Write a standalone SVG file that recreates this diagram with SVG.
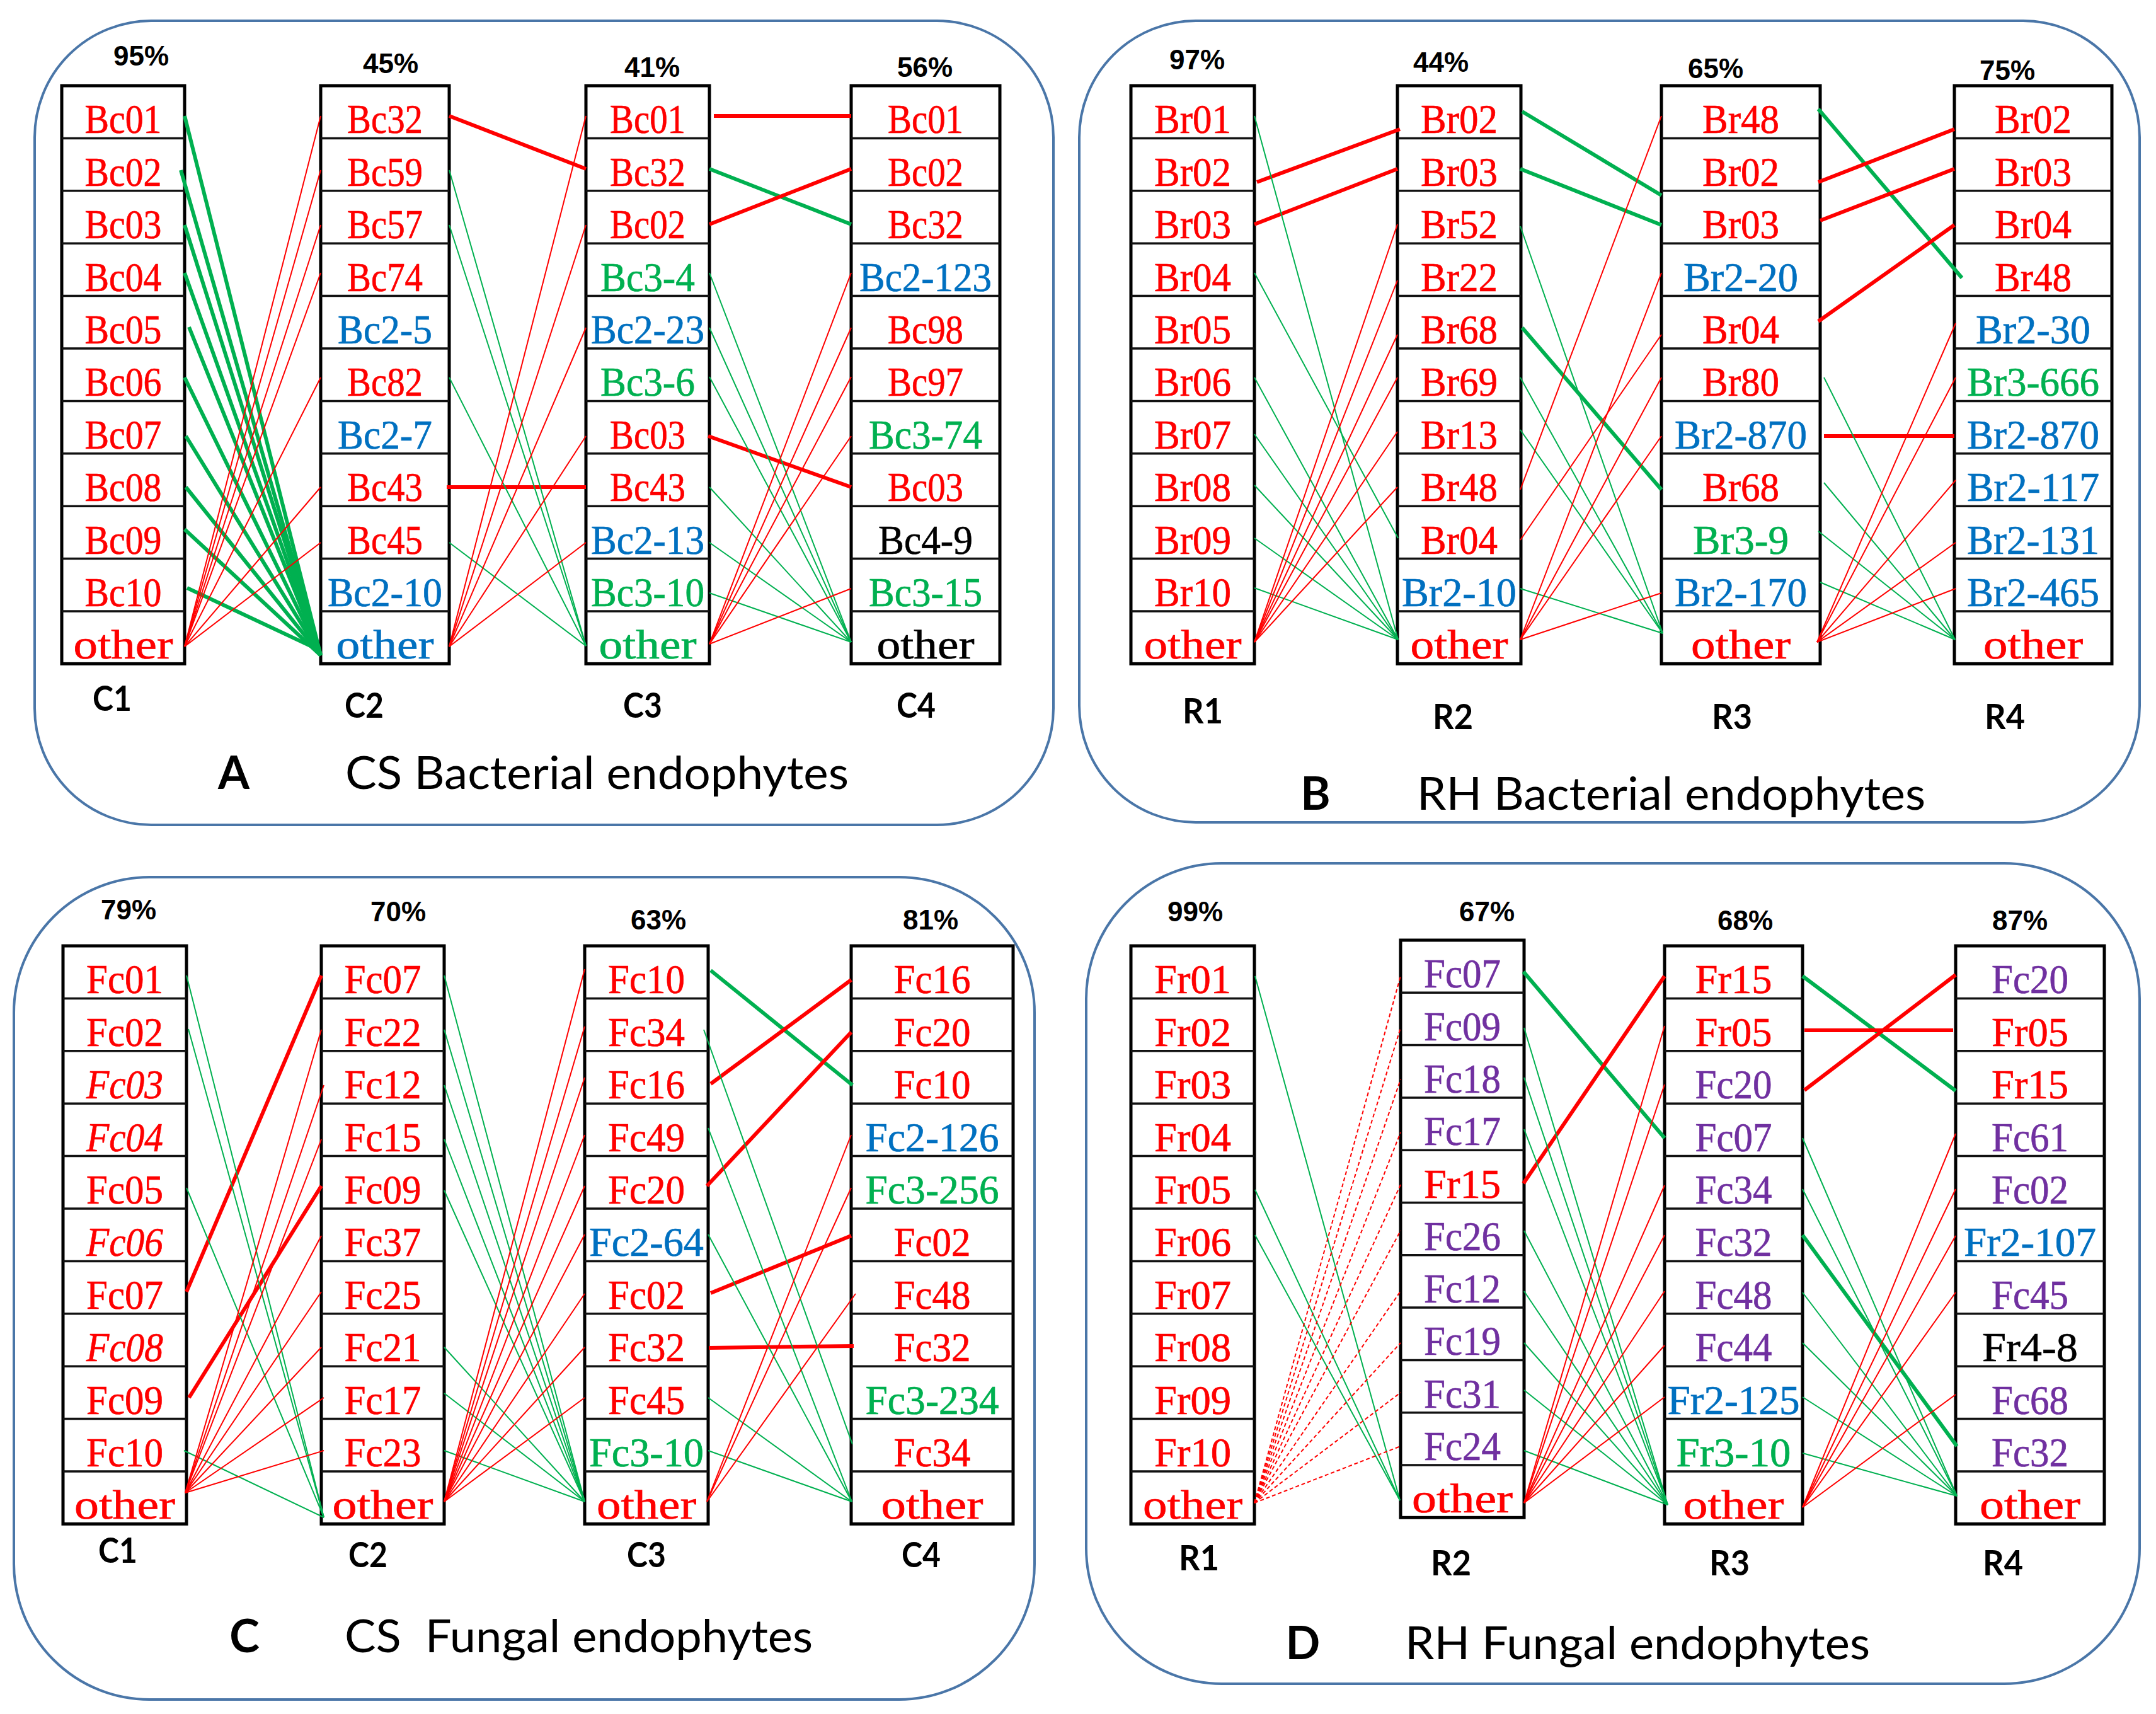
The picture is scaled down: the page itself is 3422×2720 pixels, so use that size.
<svg xmlns="http://www.w3.org/2000/svg" width="3422" height="2720" viewBox="0 0 3422 2720">
<style>
.bg{fill:#fff}
.panel{fill:none;stroke:#4A76A8;stroke-width:4}
.box{fill:#fff;stroke:#000;stroke-width:5}
.sep{fill:none;stroke:#111;stroke-width:3.5}
.t{font-family:"Liberation Serif","Times New Roman",serif;font-size:66px;text-anchor:middle;stroke-width:0.7}
.i{font-style:italic}
.r{fill:#FF0000;stroke:#FF0000}.b{fill:#0070C0;stroke:#0070C0}.g{fill:#00B050;stroke:#00B050}.p{fill:#7030A0;stroke:#7030A0}.k{fill:#000;stroke:#000}
.pc{font-family:"Liberation Sans",Arial,sans-serif;font-weight:bold;font-size:44px;text-anchor:middle;fill:#000}
.lb{font-family:Lato,"Liberation Sans",sans-serif;font-weight:bold;font-size:56px;text-anchor:middle;fill:#000}
.ti{font-family:Lato,"Liberation Sans",sans-serif;font-size:72px;fill:#000}
.tl{font-family:Lato,"Liberation Sans",sans-serif;font-weight:bold;font-size:72px;text-anchor:middle;fill:#000}
.tr{stroke:#FF0000;stroke-width:6;fill:none}
.tg{stroke:#00B050;stroke-width:6;fill:none}
.nr{stroke:#FF0000;stroke-width:2;fill:none}
.ng{stroke:#00B050;stroke-width:2;fill:none}
.dr{stroke:#FF0000;stroke-width:2;fill:none;stroke-dasharray:6 4}
</style>
<rect class="bg" x="0" y="0" width="3422" height="2720"/>

<g id="panels">
<rect id="panel-A" class="panel" x="55" y="33" width="1617" height="1276" rx="185" ry="185"/>
<rect id="panel-B" class="panel" x="1713" y="33" width="1683" height="1272" rx="185" ry="185"/>
<rect id="panel-C" class="panel" x="22" y="1392" width="1620" height="1305" rx="215" ry="215"/>
<rect id="panel-D" class="panel" x="1724" y="1370" width="1672" height="1302" rx="215" ry="215"/>
</g>

<!-- ================= PANEL A ================= -->
<g id="A-C1">
<rect class="box" x="98" y="136" width="195" height="917.4"/>
<path class="sep" d="M98 219.4h195M98 302.8h195M98 386.2h195M98 469.6h195M98 553h195M98 636.4h195M98 719.8h195M98 803.2h195M98 886.6h195M98 970h195"/>
<text class="t r" x="195.5" y="211.4" textLength="122" lengthAdjust="spacingAndGlyphs">Bc01</text>
<text class="t r" x="195.5" y="294.8" textLength="122" lengthAdjust="spacingAndGlyphs">Bc02</text>
<text class="t r" x="195.5" y="378.2" textLength="122" lengthAdjust="spacingAndGlyphs">Bc03</text>
<text class="t r" x="195.5" y="461.6" textLength="122" lengthAdjust="spacingAndGlyphs">Bc04</text>
<text class="t r" x="195.5" y="545" textLength="122" lengthAdjust="spacingAndGlyphs">Bc05</text>
<text class="t r" x="195.5" y="628.4" textLength="122" lengthAdjust="spacingAndGlyphs">Bc06</text>
<text class="t r" x="195.5" y="711.8" textLength="122" lengthAdjust="spacingAndGlyphs">Bc07</text>
<text class="t r" x="195.5" y="795.2" textLength="122" lengthAdjust="spacingAndGlyphs">Bc08</text>
<text class="t r" x="195.5" y="878.6" textLength="122" lengthAdjust="spacingAndGlyphs">Bc09</text>
<text class="t r" x="195.5" y="962" textLength="122" lengthAdjust="spacingAndGlyphs">Bc10</text>
<text class="t r" x="195.5" y="1045.4" textLength="158" lengthAdjust="spacingAndGlyphs">other</text>
</g>
<g id="A-C2">
<rect class="box" x="509" y="136" width="204" height="917.4"/>
<path class="sep" d="M509 219.4h204M509 302.8h204M509 386.2h204M509 469.6h204M509 553h204M509 636.4h204M509 719.8h204M509 803.2h204M509 886.6h204M509 970h204"/>
<text class="t r" x="611" y="211.4" textLength="120" lengthAdjust="spacingAndGlyphs">Bc32</text>
<text class="t r" x="611" y="294.8" textLength="120" lengthAdjust="spacingAndGlyphs">Bc59</text>
<text class="t r" x="611" y="378.2" textLength="120" lengthAdjust="spacingAndGlyphs">Bc57</text>
<text class="t r" x="611" y="461.6" textLength="120" lengthAdjust="spacingAndGlyphs">Bc74</text>
<text class="t b" x="611" y="545" textLength="150" lengthAdjust="spacingAndGlyphs">Bc2-5</text>
<text class="t r" x="611" y="628.4" textLength="120" lengthAdjust="spacingAndGlyphs">Bc82</text>
<text class="t b" x="611" y="711.8" textLength="150" lengthAdjust="spacingAndGlyphs">Bc2-7</text>
<text class="t r" x="611" y="795.2" textLength="120" lengthAdjust="spacingAndGlyphs">Bc43</text>
<text class="t r" x="611" y="878.6" textLength="120" lengthAdjust="spacingAndGlyphs">Bc45</text>
<text class="t b" x="611" y="962" textLength="182" lengthAdjust="spacingAndGlyphs">Bc2-10</text>
<text class="t b" x="611" y="1045.4" textLength="155" lengthAdjust="spacingAndGlyphs">other</text>
</g>
<g id="A-C3">
<rect class="box" x="930" y="136" width="196" height="917.4"/>
<path class="sep" d="M930 219.4h196M930 302.8h196M930 386.2h196M930 469.6h196M930 553h196M930 636.4h196M930 719.8h196M930 803.2h196M930 886.6h196M930 970h196"/>
<text class="t r" x="1028" y="211.4" textLength="120" lengthAdjust="spacingAndGlyphs">Bc01</text>
<text class="t r" x="1028" y="294.8" textLength="120" lengthAdjust="spacingAndGlyphs">Bc32</text>
<text class="t r" x="1028" y="378.2" textLength="120" lengthAdjust="spacingAndGlyphs">Bc02</text>
<text class="t g" x="1028" y="461.6" textLength="150" lengthAdjust="spacingAndGlyphs">Bc3-4</text>
<text class="t b" x="1028" y="545" textLength="180" lengthAdjust="spacingAndGlyphs">Bc2-23</text>
<text class="t g" x="1028" y="628.4" textLength="150" lengthAdjust="spacingAndGlyphs">Bc3-6</text>
<text class="t r" x="1028" y="711.8" textLength="120" lengthAdjust="spacingAndGlyphs">Bc03</text>
<text class="t r" x="1028" y="795.2" textLength="120" lengthAdjust="spacingAndGlyphs">Bc43</text>
<text class="t b" x="1028" y="878.6" textLength="180" lengthAdjust="spacingAndGlyphs">Bc2-13</text>
<text class="t g" x="1028" y="962" textLength="180" lengthAdjust="spacingAndGlyphs">Bc3-10</text>
<text class="t g" x="1028" y="1045.4" textLength="155" lengthAdjust="spacingAndGlyphs">other</text>
</g>
<g id="A-C4">
<rect class="box" x="1351" y="136" width="236" height="917.4"/>
<path class="sep" d="M1351 219.4h236M1351 302.8h236M1351 386.2h236M1351 469.6h236M1351 553h236M1351 636.4h236M1351 719.8h236M1351 803.2h236M1351 886.6h236M1351 970h236"/>
<text class="t r" x="1469" y="211.4" textLength="120" lengthAdjust="spacingAndGlyphs">Bc01</text>
<text class="t r" x="1469" y="294.8" textLength="120" lengthAdjust="spacingAndGlyphs">Bc02</text>
<text class="t r" x="1469" y="378.2" textLength="120" lengthAdjust="spacingAndGlyphs">Bc32</text>
<text class="t b" x="1469" y="461.6" textLength="210" lengthAdjust="spacingAndGlyphs">Bc2-123</text>
<text class="t r" x="1469" y="545" textLength="120" lengthAdjust="spacingAndGlyphs">Bc98</text>
<text class="t r" x="1469" y="628.4" textLength="120" lengthAdjust="spacingAndGlyphs">Bc97</text>
<text class="t g" x="1469" y="711.8" textLength="180" lengthAdjust="spacingAndGlyphs">Bc3-74</text>
<text class="t r" x="1469" y="795.2" textLength="120" lengthAdjust="spacingAndGlyphs">Bc03</text>
<text class="t k" x="1469" y="878.6" textLength="150" lengthAdjust="spacingAndGlyphs">Bc4-9</text>
<text class="t g" x="1469" y="962" textLength="180" lengthAdjust="spacingAndGlyphs">Bc3-15</text>
<text class="t k" x="1469" y="1045.4" textLength="155" lengthAdjust="spacingAndGlyphs">other</text>
</g>
<g id="A-labels">
<text class="pc" x="224" y="104">95%</text>
<text class="pc" x="620" y="116">45%</text>
<text class="pc" x="1035" y="122">41%</text>
<text class="pc" x="1468" y="122">56%</text>
<text class="lb" x="178" y="1128" textLength="62" lengthAdjust="spacingAndGlyphs">C1</text>
<text class="lb" x="578" y="1139" textLength="62" lengthAdjust="spacingAndGlyphs">C2</text>
<text class="lb" x="1020" y="1139" textLength="62" lengthAdjust="spacingAndGlyphs">C3</text>
<text class="lb" x="1454" y="1139" textLength="62" lengthAdjust="spacingAndGlyphs">C4</text>
<text class="tl" x="371" y="1252">A</text>
<text class="ti" x="548" y="1252" textLength="799" lengthAdjust="spacingAndGlyphs">CS Bacterial endophytes</text>
</g>

<!-- ================= PANEL B ================= -->
<g id="B-R1">
<rect class="box" x="1795" y="136" width="196" height="917.4"/>
<path class="sep" d="M1795 219.4h196M1795 302.8h196M1795 386.2h196M1795 469.6h196M1795 553h196M1795 636.4h196M1795 719.8h196M1795 803.2h196M1795 886.6h196M1795 970h196"/>
<text class="t r" x="1893" y="211.4" textLength="122" lengthAdjust="spacingAndGlyphs">Br01</text>
<text class="t r" x="1893" y="294.8" textLength="122" lengthAdjust="spacingAndGlyphs">Br02</text>
<text class="t r" x="1893" y="378.2" textLength="122" lengthAdjust="spacingAndGlyphs">Br03</text>
<text class="t r" x="1893" y="461.6" textLength="122" lengthAdjust="spacingAndGlyphs">Br04</text>
<text class="t r" x="1893" y="545" textLength="122" lengthAdjust="spacingAndGlyphs">Br05</text>
<text class="t r" x="1893" y="628.4" textLength="122" lengthAdjust="spacingAndGlyphs">Br06</text>
<text class="t r" x="1893" y="711.8" textLength="122" lengthAdjust="spacingAndGlyphs">Br07</text>
<text class="t r" x="1893" y="795.2" textLength="122" lengthAdjust="spacingAndGlyphs">Br08</text>
<text class="t r" x="1893" y="878.6" textLength="122" lengthAdjust="spacingAndGlyphs">Br09</text>
<text class="t r" x="1893" y="962" textLength="122" lengthAdjust="spacingAndGlyphs">Br10</text>
<text class="t r" x="1893" y="1045.4" textLength="155" lengthAdjust="spacingAndGlyphs">other</text>
</g>
<g id="B-R2">
<rect class="box" x="2218" y="136" width="196" height="917.4"/>
<path class="sep" d="M2218 219.4h196M2218 302.8h196M2218 386.2h196M2218 469.6h196M2218 553h196M2218 636.4h196M2218 719.8h196M2218 803.2h196M2218 886.6h196M2218 970h196"/>
<text class="t r" x="2316" y="211.4" textLength="122" lengthAdjust="spacingAndGlyphs">Br02</text>
<text class="t r" x="2316" y="294.8" textLength="122" lengthAdjust="spacingAndGlyphs">Br03</text>
<text class="t r" x="2316" y="378.2" textLength="122" lengthAdjust="spacingAndGlyphs">Br52</text>
<text class="t r" x="2316" y="461.6" textLength="122" lengthAdjust="spacingAndGlyphs">Br22</text>
<text class="t r" x="2316" y="545" textLength="122" lengthAdjust="spacingAndGlyphs">Br68</text>
<text class="t r" x="2316" y="628.4" textLength="122" lengthAdjust="spacingAndGlyphs">Br69</text>
<text class="t r" x="2316" y="711.8" textLength="122" lengthAdjust="spacingAndGlyphs">Br13</text>
<text class="t r" x="2316" y="795.2" textLength="122" lengthAdjust="spacingAndGlyphs">Br48</text>
<text class="t r" x="2316" y="878.6" textLength="122" lengthAdjust="spacingAndGlyphs">Br04</text>
<text class="t b" x="2316" y="962" textLength="182" lengthAdjust="spacingAndGlyphs">Br2-10</text>
<text class="t r" x="2316" y="1045.4" textLength="155" lengthAdjust="spacingAndGlyphs">other</text>
</g>
<g id="B-R3">
<rect class="box" x="2637" y="136" width="252" height="917.4"/>
<path class="sep" d="M2637 219.4h252M2637 302.8h252M2637 386.2h252M2637 469.6h252M2637 553h252M2637 636.4h252M2637 719.8h252M2637 803.2h252M2637 886.6h252M2637 970h252"/>
<text class="t r" x="2763" y="211.4" textLength="122" lengthAdjust="spacingAndGlyphs">Br48</text>
<text class="t r" x="2763" y="294.8" textLength="122" lengthAdjust="spacingAndGlyphs">Br02</text>
<text class="t r" x="2763" y="378.2" textLength="122" lengthAdjust="spacingAndGlyphs">Br03</text>
<text class="t b" x="2763" y="461.6" textLength="182" lengthAdjust="spacingAndGlyphs">Br2-20</text>
<text class="t r" x="2763" y="545" textLength="122" lengthAdjust="spacingAndGlyphs">Br04</text>
<text class="t r" x="2763" y="628.4" textLength="122" lengthAdjust="spacingAndGlyphs">Br80</text>
<text class="t b" x="2763" y="711.8" textLength="210" lengthAdjust="spacingAndGlyphs">Br2-870</text>
<text class="t r" x="2763" y="795.2" textLength="122" lengthAdjust="spacingAndGlyphs">Br68</text>
<text class="t g" x="2763" y="878.6" textLength="152" lengthAdjust="spacingAndGlyphs">Br3-9</text>
<text class="t b" x="2763" y="962" textLength="210" lengthAdjust="spacingAndGlyphs">Br2-170</text>
<text class="t r" x="2763" y="1045.4" textLength="158" lengthAdjust="spacingAndGlyphs">other</text>
</g>
<g id="B-R4">
<rect class="box" x="3102" y="136" width="250" height="917.4"/>
<path class="sep" d="M3102 219.4h250M3102 302.8h250M3102 386.2h250M3102 469.6h250M3102 553h250M3102 636.4h250M3102 719.8h250M3102 803.2h250M3102 886.6h250M3102 970h250"/>
<text class="t r" x="3227" y="211.4" textLength="122" lengthAdjust="spacingAndGlyphs">Br02</text>
<text class="t r" x="3227" y="294.8" textLength="122" lengthAdjust="spacingAndGlyphs">Br03</text>
<text class="t r" x="3227" y="378.2" textLength="122" lengthAdjust="spacingAndGlyphs">Br04</text>
<text class="t r" x="3227" y="461.6" textLength="122" lengthAdjust="spacingAndGlyphs">Br48</text>
<text class="t b" x="3227" y="545" textLength="182" lengthAdjust="spacingAndGlyphs">Br2-30</text>
<text class="t g" x="3227" y="628.4" textLength="210" lengthAdjust="spacingAndGlyphs">Br3-666</text>
<text class="t b" x="3227" y="711.8" textLength="210" lengthAdjust="spacingAndGlyphs">Br2-870</text>
<text class="t b" x="3227" y="795.2" textLength="210" lengthAdjust="spacingAndGlyphs">Br2-117</text>
<text class="t b" x="3227" y="878.6" textLength="210" lengthAdjust="spacingAndGlyphs">Br2-131</text>
<text class="t b" x="3227" y="962" textLength="210" lengthAdjust="spacingAndGlyphs">Br2-465</text>
<text class="t r" x="3227" y="1045.4" textLength="158" lengthAdjust="spacingAndGlyphs">other</text>
</g>
<g id="B-labels">
<text class="pc" x="1900" y="110">97%</text>
<text class="pc" x="2287" y="114">44%</text>
<text class="pc" x="2723" y="124">65%</text>
<text class="pc" x="3186" y="127">75%</text>
<text class="lb" x="1909" y="1148" textLength="64" lengthAdjust="spacingAndGlyphs">R1</text>
<text class="lb" x="2306" y="1157" textLength="64" lengthAdjust="spacingAndGlyphs">R2</text>
<text class="lb" x="2749" y="1157" textLength="64" lengthAdjust="spacingAndGlyphs">R3</text>
<text class="lb" x="3182" y="1157" textLength="64" lengthAdjust="spacingAndGlyphs">R4</text>
<text class="tl" x="2088" y="1285">B</text>
<text class="ti" x="2249" y="1285" textLength="807" lengthAdjust="spacingAndGlyphs">RH Bacterial endophytes</text>
</g>

<!-- ================= PANEL C ================= -->
<g id="C-C1">
<rect class="box" x="100" y="1501" width="196" height="917.4"/>
<path class="sep" d="M100 1584.4h196M100 1667.8h196M100 1751.2h196M100 1834.6h196M100 1918h196M100 2001.4h196M100 2084.8h196M100 2168.2h196M100 2251.6h196M100 2335h196"/>
<text class="t r" x="198" y="1576.4" textLength="122" lengthAdjust="spacingAndGlyphs">Fc01</text>
<text class="t r" x="198" y="1659.8" textLength="122" lengthAdjust="spacingAndGlyphs">Fc02</text>
<text class="t r i" x="198" y="1743.2" textLength="122" lengthAdjust="spacingAndGlyphs">Fc03</text>
<text class="t r i" x="198" y="1826.6" textLength="122" lengthAdjust="spacingAndGlyphs">Fc04</text>
<text class="t r" x="198" y="1910" textLength="122" lengthAdjust="spacingAndGlyphs">Fc05</text>
<text class="t r i" x="198" y="1993.4" textLength="122" lengthAdjust="spacingAndGlyphs">Fc06</text>
<text class="t r" x="198" y="2076.8" textLength="122" lengthAdjust="spacingAndGlyphs">Fc07</text>
<text class="t r i" x="198" y="2160.2" textLength="122" lengthAdjust="spacingAndGlyphs">Fc08</text>
<text class="t r" x="198" y="2243.6" textLength="122" lengthAdjust="spacingAndGlyphs">Fc09</text>
<text class="t r" x="198" y="2327" textLength="122" lengthAdjust="spacingAndGlyphs">Fc10</text>
<text class="t r" x="198" y="2410.4" textLength="160" lengthAdjust="spacingAndGlyphs">other</text>
</g>
<g id="C-C2">
<rect class="box" x="510" y="1501" width="195" height="917.4"/>
<path class="sep" d="M510 1584.4h195M510 1667.8h195M510 1751.2h195M510 1834.6h195M510 1918h195M510 2001.4h195M510 2084.8h195M510 2168.2h195M510 2251.6h195M510 2335h195"/>
<text class="t r" x="607.5" y="1576.4" textLength="122" lengthAdjust="spacingAndGlyphs">Fc07</text>
<text class="t r" x="607.5" y="1659.8" textLength="122" lengthAdjust="spacingAndGlyphs">Fc22</text>
<text class="t r" x="607.5" y="1743.2" textLength="122" lengthAdjust="spacingAndGlyphs">Fc12</text>
<text class="t r" x="607.5" y="1826.6" textLength="122" lengthAdjust="spacingAndGlyphs">Fc15</text>
<text class="t r" x="607.5" y="1910" textLength="122" lengthAdjust="spacingAndGlyphs">Fc09</text>
<text class="t r" x="607.5" y="1993.4" textLength="122" lengthAdjust="spacingAndGlyphs">Fc37</text>
<text class="t r" x="607.5" y="2076.8" textLength="122" lengthAdjust="spacingAndGlyphs">Fc25</text>
<text class="t r" x="607.5" y="2160.2" textLength="122" lengthAdjust="spacingAndGlyphs">Fc21</text>
<text class="t r" x="607.5" y="2243.6" textLength="122" lengthAdjust="spacingAndGlyphs">Fc17</text>
<text class="t r" x="607.5" y="2327" textLength="122" lengthAdjust="spacingAndGlyphs">Fc23</text>
<text class="t r" x="607.5" y="2410.4" textLength="160" lengthAdjust="spacingAndGlyphs">other</text>
</g>
<g id="C-C3">
<rect class="box" x="928" y="1501" width="196" height="917.4"/>
<path class="sep" d="M928 1584.4h196M928 1667.8h196M928 1751.2h196M928 1834.6h196M928 1918h196M928 2001.4h196M928 2084.8h196M928 2168.2h196M928 2251.6h196M928 2335h196"/>
<text class="t r" x="1026" y="1576.4" textLength="122" lengthAdjust="spacingAndGlyphs">Fc10</text>
<text class="t r" x="1026" y="1659.8" textLength="122" lengthAdjust="spacingAndGlyphs">Fc34</text>
<text class="t r" x="1026" y="1743.2" textLength="122" lengthAdjust="spacingAndGlyphs">Fc16</text>
<text class="t r" x="1026" y="1826.6" textLength="122" lengthAdjust="spacingAndGlyphs">Fc49</text>
<text class="t r" x="1026" y="1910" textLength="122" lengthAdjust="spacingAndGlyphs">Fc20</text>
<text class="t b" x="1026" y="1993.4" textLength="182" lengthAdjust="spacingAndGlyphs">Fc2-64</text>
<text class="t r" x="1026" y="2076.8" textLength="122" lengthAdjust="spacingAndGlyphs">Fc02</text>
<text class="t r" x="1026" y="2160.2" textLength="122" lengthAdjust="spacingAndGlyphs">Fc32</text>
<text class="t r" x="1026" y="2243.6" textLength="122" lengthAdjust="spacingAndGlyphs">Fc45</text>
<text class="t g" x="1026" y="2327" textLength="182" lengthAdjust="spacingAndGlyphs">Fc3-10</text>
<text class="t r" x="1026" y="2410.4" textLength="158" lengthAdjust="spacingAndGlyphs">other</text>
</g>
<g id="C-C4">
<rect class="box" x="1351" y="1501" width="257" height="917.4"/>
<path class="sep" d="M1351 1584.4h257M1351 1667.8h257M1351 1751.2h257M1351 1834.6h257M1351 1918h257M1351 2001.4h257M1351 2084.8h257M1351 2168.2h257M1351 2251.6h257M1351 2335h257"/>
<text class="t r" x="1479.5" y="1576.4" textLength="122" lengthAdjust="spacingAndGlyphs">Fc16</text>
<text class="t r" x="1479.5" y="1659.8" textLength="122" lengthAdjust="spacingAndGlyphs">Fc20</text>
<text class="t r" x="1479.5" y="1743.2" textLength="122" lengthAdjust="spacingAndGlyphs">Fc10</text>
<text class="t b" x="1479.5" y="1826.6" textLength="212" lengthAdjust="spacingAndGlyphs">Fc2-126</text>
<text class="t g" x="1479.5" y="1910" textLength="212" lengthAdjust="spacingAndGlyphs">Fc3-256</text>
<text class="t r" x="1479.5" y="1993.4" textLength="122" lengthAdjust="spacingAndGlyphs">Fc02</text>
<text class="t r" x="1479.5" y="2076.8" textLength="122" lengthAdjust="spacingAndGlyphs">Fc48</text>
<text class="t r" x="1479.5" y="2160.2" textLength="122" lengthAdjust="spacingAndGlyphs">Fc32</text>
<text class="t g" x="1479.5" y="2243.6" textLength="212" lengthAdjust="spacingAndGlyphs">Fc3-234</text>
<text class="t r" x="1479.5" y="2327" textLength="122" lengthAdjust="spacingAndGlyphs">Fc34</text>
<text class="t r" x="1479.5" y="2410.4" textLength="162" lengthAdjust="spacingAndGlyphs">other</text>
</g>
<g id="C-labels">
<text class="pc" x="204" y="1459">79%</text>
<text class="pc" x="632" y="1462">70%</text>
<text class="pc" x="1045" y="1475">63%</text>
<text class="pc" x="1477" y="1475">81%</text>
<text class="lb" x="187" y="2480" textLength="62" lengthAdjust="spacingAndGlyphs">C1</text>
<text class="lb" x="584" y="2487" textLength="62" lengthAdjust="spacingAndGlyphs">C2</text>
<text class="lb" x="1026" y="2487" textLength="62" lengthAdjust="spacingAndGlyphs">C3</text>
<text class="lb" x="1462" y="2487" textLength="62" lengthAdjust="spacingAndGlyphs">C4</text>
<text class="tl" x="388" y="2622">C</text>
<text class="ti" x="547" y="2622" textLength="743" lengthAdjust="spacingAndGlyphs" style="white-space:pre">CS  Fungal endophytes</text>
</g>

<!-- ================= PANEL D ================= -->
<g id="D-R1">
<rect class="box" x="1795" y="1501" width="196" height="917.4"/>
<path class="sep" d="M1795 1584.4h196M1795 1667.8h196M1795 1751.2h196M1795 1834.6h196M1795 1918h196M1795 2001.4h196M1795 2084.8h196M1795 2168.2h196M1795 2251.6h196M1795 2335h196"/>
<text class="t r" x="1893" y="1576.4" textLength="122" lengthAdjust="spacingAndGlyphs">Fr01</text>
<text class="t r" x="1893" y="1659.8" textLength="122" lengthAdjust="spacingAndGlyphs">Fr02</text>
<text class="t r" x="1893" y="1743.2" textLength="122" lengthAdjust="spacingAndGlyphs">Fr03</text>
<text class="t r" x="1893" y="1826.6" textLength="122" lengthAdjust="spacingAndGlyphs">Fr04</text>
<text class="t r" x="1893" y="1910" textLength="122" lengthAdjust="spacingAndGlyphs">Fr05</text>
<text class="t r" x="1893" y="1993.4" textLength="122" lengthAdjust="spacingAndGlyphs">Fr06</text>
<text class="t r" x="1893" y="2076.8" textLength="122" lengthAdjust="spacingAndGlyphs">Fr07</text>
<text class="t r" x="1893" y="2160.2" textLength="122" lengthAdjust="spacingAndGlyphs">Fr08</text>
<text class="t r" x="1893" y="2243.6" textLength="122" lengthAdjust="spacingAndGlyphs">Fr09</text>
<text class="t r" x="1893" y="2327" textLength="122" lengthAdjust="spacingAndGlyphs">Fr10</text>
<text class="t r" x="1893" y="2410.4" textLength="158" lengthAdjust="spacingAndGlyphs">other</text>
</g>
<g id="D-R2">
<rect class="box" x="2223" y="1492" width="196" height="916.3"/>
<path class="sep" d="M2223 1575.3h196M2223 1658.6h196M2223 1741.9h196M2223 1825.2h196M2223 1908.5h196M2223 1991.8h196M2223 2075.1h196M2223 2158.4h196M2223 2241.7h196M2223 2325h196"/>
<text class="t p" x="2321" y="1567.3" textLength="122" lengthAdjust="spacingAndGlyphs">Fc07</text>
<text class="t p" x="2321" y="1650.6" textLength="122" lengthAdjust="spacingAndGlyphs">Fc09</text>
<text class="t p" x="2321" y="1733.9" textLength="122" lengthAdjust="spacingAndGlyphs">Fc18</text>
<text class="t p" x="2321" y="1817.2" textLength="122" lengthAdjust="spacingAndGlyphs">Fc17</text>
<text class="t r" x="2321" y="1900.5" textLength="122" lengthAdjust="spacingAndGlyphs">Fr15</text>
<text class="t p" x="2321" y="1983.8" textLength="122" lengthAdjust="spacingAndGlyphs">Fc26</text>
<text class="t p" x="2321" y="2067.1" textLength="122" lengthAdjust="spacingAndGlyphs">Fc12</text>
<text class="t p" x="2321" y="2150.4" textLength="122" lengthAdjust="spacingAndGlyphs">Fc19</text>
<text class="t p" x="2321" y="2233.7" textLength="122" lengthAdjust="spacingAndGlyphs">Fc31</text>
<text class="t p" x="2321" y="2317" textLength="122" lengthAdjust="spacingAndGlyphs">Fc24</text>
<text class="t r" x="2321" y="2400.3" textLength="160" lengthAdjust="spacingAndGlyphs">other</text>
</g>
<g id="D-R3">
<rect class="box" x="2642" y="1501" width="219" height="917.4"/>
<path class="sep" d="M2642 1584.4h219M2642 1667.8h219M2642 1751.2h219M2642 1834.6h219M2642 1918h219M2642 2001.4h219M2642 2084.8h219M2642 2168.2h219M2642 2251.6h219M2642 2335h219"/>
<text class="t r" x="2751.5" y="1576.4" textLength="122" lengthAdjust="spacingAndGlyphs">Fr15</text>
<text class="t r" x="2751.5" y="1659.8" textLength="122" lengthAdjust="spacingAndGlyphs">Fr05</text>
<text class="t p" x="2751.5" y="1743.2" textLength="122" lengthAdjust="spacingAndGlyphs">Fc20</text>
<text class="t p" x="2751.5" y="1826.6" textLength="122" lengthAdjust="spacingAndGlyphs">Fc07</text>
<text class="t p" x="2751.5" y="1910" textLength="122" lengthAdjust="spacingAndGlyphs">Fc34</text>
<text class="t p" x="2751.5" y="1993.4" textLength="122" lengthAdjust="spacingAndGlyphs">Fc32</text>
<text class="t p" x="2751.5" y="2076.8" textLength="122" lengthAdjust="spacingAndGlyphs">Fc48</text>
<text class="t p" x="2751.5" y="2160.2" textLength="122" lengthAdjust="spacingAndGlyphs">Fc44</text>
<text class="t b" x="2751.5" y="2243.6" textLength="210" lengthAdjust="spacingAndGlyphs">Fr2-125</text>
<text class="t g" x="2751.5" y="2327" textLength="182" lengthAdjust="spacingAndGlyphs">Fr3-10</text>
<text class="t r" x="2751.5" y="2410.4" textLength="160" lengthAdjust="spacingAndGlyphs">other</text>
</g>
<g id="D-R4">
<rect class="box" x="3104" y="1501" width="236" height="917.4"/>
<path class="sep" d="M3104 1584.4h236M3104 1667.8h236M3104 1751.2h236M3104 1834.6h236M3104 1918h236M3104 2001.4h236M3104 2084.8h236M3104 2168.2h236M3104 2251.6h236M3104 2335h236"/>
<text class="t p" x="3222" y="1576.4" textLength="122" lengthAdjust="spacingAndGlyphs">Fc20</text>
<text class="t r" x="3222" y="1659.8" textLength="122" lengthAdjust="spacingAndGlyphs">Fr05</text>
<text class="t r" x="3222" y="1743.2" textLength="122" lengthAdjust="spacingAndGlyphs">Fr15</text>
<text class="t p" x="3222" y="1826.6" textLength="122" lengthAdjust="spacingAndGlyphs">Fc61</text>
<text class="t p" x="3222" y="1910" textLength="122" lengthAdjust="spacingAndGlyphs">Fc02</text>
<text class="t b" x="3222" y="1993.4" textLength="210" lengthAdjust="spacingAndGlyphs">Fr2-107</text>
<text class="t p" x="3222" y="2076.8" textLength="122" lengthAdjust="spacingAndGlyphs">Fc45</text>
<text class="t k" x="3222" y="2160.2" textLength="152" lengthAdjust="spacingAndGlyphs">Fr4-8</text>
<text class="t p" x="3222" y="2243.6" textLength="122" lengthAdjust="spacingAndGlyphs">Fc68</text>
<text class="t p" x="3222" y="2327" textLength="122" lengthAdjust="spacingAndGlyphs">Fc32</text>
<text class="t r" x="3222" y="2410.4" textLength="160" lengthAdjust="spacingAndGlyphs">other</text>
</g>
<g id="D-labels">
<text class="pc" x="1897" y="1462">99%</text>
<text class="pc" x="2360" y="1462">67%</text>
<text class="pc" x="2770" y="1476">68%</text>
<text class="pc" x="3206" y="1476">87%</text>
<text class="lb" x="1903" y="2492" textLength="64" lengthAdjust="spacingAndGlyphs">R1</text>
<text class="lb" x="2303" y="2500" textLength="64" lengthAdjust="spacingAndGlyphs">R2</text>
<text class="lb" x="2745" y="2500" textLength="64" lengthAdjust="spacingAndGlyphs">R3</text>
<text class="lb" x="3179" y="2500" textLength="64" lengthAdjust="spacingAndGlyphs">R4</text>
<text class="tl" x="2068" y="2633">D</text>
<text class="ti" x="2230" y="2633" textLength="738" lengthAdjust="spacingAndGlyphs">RH Fungal endophytes</text>
</g>

<!-- ================= CONNECTORS ================= -->
<g id="connectors">
<g id="A-conn">
<line class="tg" x1="293" y1="184" x2="509" y2="1040"/>
<line class="tg" x1="287" y1="270" x2="509" y2="1040"/>
<line class="tg" x1="293" y1="357" x2="509" y2="1040"/>
<line class="tg" x1="293" y1="433" x2="509" y2="1040"/>
<line class="tg" x1="300" y1="519" x2="509" y2="1040"/>
<line class="tg" x1="293" y1="599" x2="509" y2="1040"/>
<line class="tg" x1="295" y1="692" x2="509" y2="1040"/>
<line class="tg" x1="295" y1="773" x2="509" y2="1040"/>
<line class="tg" x1="293" y1="840" x2="509" y2="1040"/>
<line class="tg" x1="297" y1="933" x2="495" y2="1026"/>
<line class="nr" x1="293" y1="1026" x2="509" y2="184"/>
<line class="nr" x1="293" y1="1026" x2="509" y2="270"/>
<line class="nr" x1="293" y1="1026" x2="509" y2="357"/>
<line class="nr" x1="293" y1="1026" x2="509" y2="433"/>
<line class="nr" x1="293" y1="1026" x2="509" y2="599"/>
<line class="nr" x1="293" y1="1026" x2="509" y2="773"/>
<line class="nr" x1="293" y1="1026" x2="509" y2="861"/>
<line class="tr" x1="713" y1="184" x2="930" y2="268"/>
<line class="tr" x1="709" y1="773" x2="930" y2="773"/>
<line class="ng" x1="713" y1="270" x2="930" y2="1025"/>
<line class="ng" x1="713" y1="357" x2="930" y2="1025"/>
<line class="ng" x1="713" y1="599" x2="930" y2="1025"/>
<line class="ng" x1="713" y1="861" x2="930" y2="1025"/>
<line class="nr" x1="713" y1="1026" x2="930" y2="184"/>
<line class="nr" x1="713" y1="1026" x2="930" y2="357"/>
<line class="nr" x1="713" y1="1026" x2="930" y2="520"/>
<line class="nr" x1="713" y1="1026" x2="930" y2="692"/>
<line class="nr" x1="713" y1="1026" x2="930" y2="861"/>
<line class="tr" x1="1133" y1="184" x2="1351" y2="184"/>
<line class="tg" x1="1126" y1="268" x2="1351" y2="356"/>
<line class="tr" x1="1126" y1="356" x2="1351" y2="268"/>
<line class="tr" x1="1124" y1="692" x2="1351" y2="773"/>
<line class="ng" x1="1126" y1="433" x2="1351" y2="1019"/>
<line class="ng" x1="1126" y1="520" x2="1351" y2="1019"/>
<line class="ng" x1="1126" y1="598" x2="1351" y2="1019"/>
<line class="ng" x1="1126" y1="773" x2="1351" y2="1019"/>
<line class="ng" x1="1126" y1="861" x2="1351" y2="1019"/>
<line class="ng" x1="1126" y1="941" x2="1351" y2="1019"/>
<line class="nr" x1="1126" y1="1022" x2="1351" y2="433"/>
<line class="nr" x1="1126" y1="1022" x2="1351" y2="520"/>
<line class="nr" x1="1126" y1="1022" x2="1351" y2="598"/>
<line class="nr" x1="1126" y1="1022" x2="1351" y2="692"/>
<line class="nr" x1="1126" y1="1022" x2="1351" y2="934"/>
</g>
<g id="B-conn">
<line class="tr" x1="1995" y1="289" x2="2222" y2="205"/>
<line class="tr" x1="1991" y1="356" x2="2218" y2="268"/>
<line class="ng" x1="1991" y1="184" x2="2219" y2="1015"/>
<line class="ng" x1="1991" y1="433" x2="2219" y2="854"/>
<line class="ng" x1="1991" y1="599" x2="2219" y2="1015"/>
<line class="ng" x1="1991" y1="689" x2="2219" y2="1015"/>
<line class="ng" x1="1991" y1="770" x2="2219" y2="1015"/>
<line class="ng" x1="1991" y1="854" x2="2219" y2="1015"/>
<line class="ng" x1="1991" y1="933" x2="2219" y2="1015"/>
<line class="nr" x1="1991" y1="1019" x2="2218" y2="356"/>
<line class="nr" x1="1991" y1="1019" x2="2218" y2="445"/>
<line class="nr" x1="1991" y1="1019" x2="2218" y2="531"/>
<line class="nr" x1="1991" y1="1019" x2="2218" y2="599"/>
<line class="nr" x1="1991" y1="1019" x2="2218" y2="685"/>
<line class="nr" x1="1991" y1="1019" x2="2218" y2="773"/>
<line class="tg" x1="2416" y1="177" x2="2637" y2="310"/>
<line class="tg" x1="2413" y1="268" x2="2637" y2="357"/>
<line class="tg" x1="2416" y1="520" x2="2637" y2="777"/>
<line class="ng" x1="2413" y1="359" x2="2639" y2="1005"/>
<line class="ng" x1="2413" y1="599" x2="2639" y2="1005"/>
<line class="ng" x1="2413" y1="682" x2="2639" y2="1005"/>
<line class="ng" x1="2413" y1="934" x2="2639" y2="1005"/>
<line class="nr" x1="2413" y1="777" x2="2637" y2="184"/>
<line class="nr" x1="2413" y1="857" x2="2637" y2="531"/>
<line class="nr" x1="2413" y1="1015" x2="2637" y2="433"/>
<line class="nr" x1="2413" y1="1015" x2="2637" y2="599"/>
<line class="nr" x1="2413" y1="1015" x2="2637" y2="692"/>
<line class="nr" x1="2413" y1="1015" x2="2637" y2="941"/>
<line class="tg" x1="2886" y1="173" x2="3114" y2="441"/>
<line class="tr" x1="2886" y1="289" x2="3102" y2="205"/>
<line class="tr" x1="2889" y1="350" x2="3102" y2="268"/>
<line class="tr" x1="2886" y1="510" x2="3102" y2="357"/>
<line class="tr" x1="2895" y1="692" x2="3102" y2="692"/>
<line class="ng" x1="2895" y1="599" x2="3103" y2="1015"/>
<line class="ng" x1="2895" y1="766" x2="3103" y2="1015"/>
<line class="ng" x1="2886" y1="843" x2="3103" y2="1015"/>
<line class="ng" x1="2889" y1="924" x2="3103" y2="1015"/>
<line class="nr" x1="2884" y1="1019" x2="3104" y2="513"/>
<line class="nr" x1="2884" y1="1019" x2="3104" y2="599"/>
<line class="nr" x1="2884" y1="1019" x2="3104" y2="762"/>
<line class="nr" x1="2884" y1="1019" x2="3104" y2="861"/>
<line class="nr" x1="2884" y1="1019" x2="3104" y2="934"/>
</g>
<g id="C-conn">
<line class="tr" x1="296" y1="2050" x2="510" y2="1548"/>
<line class="tr" x1="300" y1="2218" x2="510" y2="1882"/>
<line class="ng" x1="296" y1="1548" x2="514" y2="2408"/>
<line class="ng" x1="299" y1="1633" x2="514" y2="2408"/>
<line class="ng" x1="296" y1="1885" x2="514" y2="2408"/>
<line class="ng" x1="292" y1="2302" x2="514" y2="2408"/>
<line class="nr" x1="294" y1="2369" x2="510" y2="1634"/>
<line class="nr" x1="294" y1="2369" x2="514" y2="1722"/>
<line class="nr" x1="294" y1="2369" x2="510" y2="1808"/>
<line class="nr" x1="294" y1="2369" x2="510" y2="1961"/>
<line class="nr" x1="294" y1="2369" x2="510" y2="2050"/>
<line class="nr" x1="294" y1="2369" x2="510" y2="2138"/>
<line class="nr" x1="294" y1="2369" x2="514" y2="2218"/>
<line class="nr" x1="294" y1="2369" x2="514" y2="2302"/>
<line class="ng" x1="705" y1="1548" x2="928" y2="2383"/>
<line class="ng" x1="705" y1="1634" x2="928" y2="2383"/>
<line class="ng" x1="705" y1="1722" x2="928" y2="2383"/>
<line class="ng" x1="705" y1="1808" x2="928" y2="2383"/>
<line class="ng" x1="705" y1="1889" x2="928" y2="2383"/>
<line class="ng" x1="705" y1="2138" x2="928" y2="2383"/>
<line class="ng" x1="705" y1="2211" x2="928" y2="2383"/>
<line class="ng" x1="705" y1="2302" x2="928" y2="2383"/>
<line class="nr" x1="705" y1="2383" x2="928" y2="1538"/>
<line class="nr" x1="705" y1="2383" x2="928" y2="1629"/>
<line class="nr" x1="705" y1="2383" x2="928" y2="1710"/>
<line class="nr" x1="705" y1="2383" x2="928" y2="1801"/>
<line class="nr" x1="705" y1="2383" x2="928" y2="1882"/>
<line class="nr" x1="705" y1="2383" x2="928" y2="1959"/>
<line class="nr" x1="705" y1="2383" x2="928" y2="2053"/>
<line class="nr" x1="705" y1="2383" x2="928" y2="2138"/>
<line class="nr" x1="705" y1="2383" x2="928" y2="2218"/>
<line class="tg" x1="1128" y1="1540" x2="1353" y2="1722"/>
<line class="tr" x1="1128" y1="1720" x2="1351" y2="1555"/>
<line class="tr" x1="1122" y1="1882" x2="1351" y2="1638"/>
<line class="tr" x1="1128" y1="2052" x2="1351" y2="1961"/>
<line class="tr" x1="1125" y1="2139" x2="1355" y2="2136"/>
<line class="ng" x1="1117" y1="1634" x2="1353" y2="2292"/>
<line class="ng" x1="1124" y1="1790" x2="1352" y2="2383"/>
<line class="ng" x1="1124" y1="1959" x2="1352" y2="2383"/>
<line class="ng" x1="1124" y1="2218" x2="1352" y2="2383"/>
<line class="ng" x1="1124" y1="2302" x2="1352" y2="2383"/>
<line class="nr" x1="1122" y1="2383" x2="1351" y2="1801"/>
<line class="nr" x1="1122" y1="2383" x2="1351" y2="1885"/>
<line class="nr" x1="1122" y1="2383" x2="1358" y2="2053"/>
</g>
<g id="D-conn">
<line class="ng" x1="1992" y1="1549" x2="2222" y2="2381"/>
<line class="ng" x1="1992" y1="1888" x2="2222" y2="2381"/>
<line class="ng" x1="1992" y1="1960" x2="2222" y2="2381"/>
<line class="dr" x1="1991" y1="2385" x2="2223" y2="1549"/>
<line class="dr" x1="1991" y1="2385" x2="2223" y2="1631"/>
<line class="dr" x1="1991" y1="2385" x2="2223" y2="1713"/>
<line class="dr" x1="1991" y1="2385" x2="2223" y2="1797"/>
<line class="dr" x1="1991" y1="2385" x2="2223" y2="1880"/>
<line class="dr" x1="1991" y1="2385" x2="2223" y2="1953"/>
<line class="dr" x1="1991" y1="2385" x2="2223" y2="2049"/>
<line class="dr" x1="1991" y1="2385" x2="2223" y2="2131"/>
<line class="dr" x1="1991" y1="2385" x2="2223" y2="2210"/>
<line class="dr" x1="1991" y1="2385" x2="2223" y2="2295"/>
<line class="tg" x1="2418" y1="1542" x2="2642" y2="1806"/>
<line class="tr" x1="2418" y1="1878" x2="2642" y2="1549"/>
<line class="ng" x1="2419" y1="1631" x2="2647" y2="2388"/>
<line class="ng" x1="2419" y1="1710" x2="2647" y2="2388"/>
<line class="ng" x1="2419" y1="1792" x2="2647" y2="2388"/>
<line class="ng" x1="2419" y1="1953" x2="2647" y2="2388"/>
<line class="ng" x1="2419" y1="2049" x2="2647" y2="2388"/>
<line class="ng" x1="2419" y1="2131" x2="2647" y2="2388"/>
<line class="ng" x1="2419" y1="2206" x2="2647" y2="2388"/>
<line class="ng" x1="2419" y1="2302" x2="2647" y2="2388"/>
<line class="nr" x1="2419" y1="2385" x2="2642" y2="1628"/>
<line class="nr" x1="2419" y1="2385" x2="2642" y2="1721"/>
<line class="nr" x1="2419" y1="2385" x2="2642" y2="1881"/>
<line class="nr" x1="2419" y1="2385" x2="2642" y2="1960"/>
<line class="nr" x1="2419" y1="2385" x2="2642" y2="2049"/>
<line class="nr" x1="2419" y1="2385" x2="2642" y2="2135"/>
<line class="nr" x1="2419" y1="2385" x2="2642" y2="2217"/>
<line class="tg" x1="2861" y1="1549" x2="3104" y2="1731"/>
<line class="tr" x1="2864" y1="1635" x2="3100" y2="1635"/>
<line class="tr" x1="2864" y1="1730" x2="3104" y2="1547"/>
<line class="tg" x1="2861" y1="1960" x2="3106" y2="2295"/>
<line class="ng" x1="2861" y1="1806" x2="3106" y2="2374"/>
<line class="ng" x1="2861" y1="1887" x2="3106" y2="2374"/>
<line class="ng" x1="2861" y1="2051" x2="3106" y2="2374"/>
<line class="ng" x1="2861" y1="2131" x2="3106" y2="2374"/>
<line class="ng" x1="2861" y1="2217" x2="3106" y2="2374"/>
<line class="ng" x1="2861" y1="2306" x2="3106" y2="2374"/>
<line class="nr" x1="2861" y1="2392" x2="3104" y2="1799"/>
<line class="nr" x1="2861" y1="2392" x2="3104" y2="1887"/>
<line class="nr" x1="2861" y1="2392" x2="3104" y2="1961"/>
<line class="nr" x1="2861" y1="2392" x2="3104" y2="2051"/>
<line class="nr" x1="2861" y1="2392" x2="3104" y2="2213"/>
</g>
</g>
</svg>
